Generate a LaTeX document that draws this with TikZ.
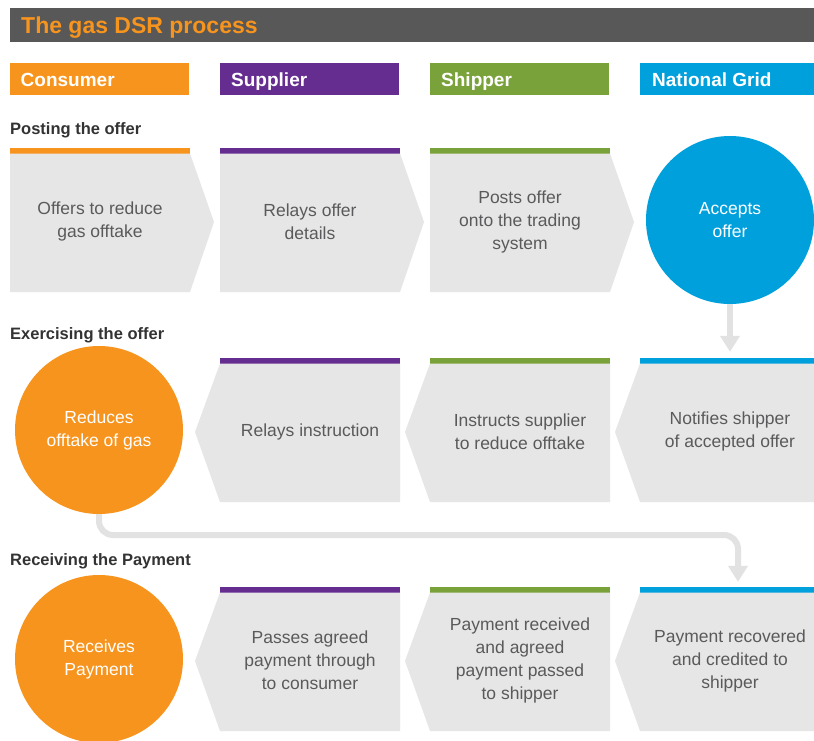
\documentclass[tikz,border=0pt]{standalone}
\usepackage{fontspec}
\setmainfont{Liberation Sans}
\usetikzlibrary{arrows.meta}
\definecolor{cOrange}{HTML}{F7941D}
\definecolor{cPurple}{HTML}{662D91}
\definecolor{cGreen}{HTML}{7AA23A}
\definecolor{cBlue}{HTML}{00A0DD}
\definecolor{cBar}{HTML}{585858}
\definecolor{cBox}{HTML}{E6E6E6}
\definecolor{cText}{HTML}{5A5A5C}
\definecolor{cLabel}{HTML}{333333}
\definecolor{cArrow}{HTML}{E2E2E2}
\begin{document}
\begin{tikzpicture}[x=1pt,y=-1pt,
  header/.style={anchor=base west,text=white,inner sep=0pt,font=\fontsize{19}{22}\selectfont\bfseries},
  hbox/.style={minimum width=179pt,minimum height=32pt,inner sep=0pt,anchor=north west},
  section/.style={anchor=base west,text=cLabel,inner sep=0pt,font=\fontsize{16.5}{19}\selectfont\bfseries},
  boxtext/.style={align=center,text=cText,inner sep=0pt,minimum width=180pt,minimum height=139pt,font=\fontsize{17.5}{23}\selectfont},
  disc/.style={circle,minimum size=168pt,inner sep=0pt,align=center,text=white,font=\fontsize{17.5}{23}\selectfont},
  body/.style={fill=cBox},
  conn/.style={draw=cArrow,line width=6pt,-{Triangle[width=19pt,length=16pt]}}
]
\useasboundingbox (0,0) rectangle (814,740);
\fill[white] (0,0) rectangle (814,740);

% title bar
\fill[cBar] (10,7.5) rectangle (814,42);
\node[anchor=base west,text=cOrange,inner sep=0pt,font=\fontsize{23}{26}\selectfont\bfseries] (title) at (21,33.3) {The gas DSR process};

% header boxes
\node[hbox,fill=cOrange] (hcons) at (10,63) {};
\node[hbox,fill=cPurple] (hsup) at (220,63) {};
\node[hbox,fill=cGreen] (hship) at (430,63) {};
\node[hbox,fill=cBlue,minimum width=184pt] (hng) at (640,63) {};
\node[header] (tcons) at (20.5,86) {Consumer};
\node[header] (tsup) at (231,86) {Supplier};
\node[header] (tship) at (441,86) {Shipper};
\node[header] (tng) at (652,86) {National Grid};

% section labels
\node[section] (s1) at (10,134) {Posting the offer};
\node[section] (s2) at (10,339) {Exercising the offer};
\node[section] (s3) at (10,565) {Receiving the Payment};

% ---- row 1 : chevrons pointing right
\foreach \xo/\col in {10/cOrange,220/cPurple,430/cGreen}{
  \fill[\col] (\xo,148) rectangle (\xo+180,153.5);
  \fill[body] (\xo,153.5) -- (\xo+180,153.5) -- (\xo+204,222) -- (\xo+180,292) -- (\xo,292) -- cycle;
}
\node[boxtext] (cons1) at (100,221.5) {Offers to reduce\\gas offtake};
\node[boxtext] (sup1) at (310,221.5) {Relays offer\\details};
\node[boxtext] (ship1) at (520,221.5) {Posts offer\\onto the trading\\system};
\node[disc,fill=cBlue] (ng1) at (730,220) {Accepts\\offer};

% ---- row 2 : chevrons pointing left
\foreach \xo/\col in {220/cPurple,430/cGreen,640/cBlue}{
  \fill[\col] (\xo,358) rectangle (\xo+180,363.5);
  \fill[body] (\xo,363.5) -- (\xo+180,363.5) -- (\xo+180,502) -- (\xo,502) -- (\xo-25,432) -- cycle;
}
\node[disc,fill=cOrange] (cons2) at (99,430) {Reduces\\offtake of gas};
\node[boxtext] (sup2) at (310,431.5) {Relays instruction};
\node[boxtext] (ship2) at (520,431.5) {Instructs supplier\\to reduce offtake};
\node[boxtext] (ng2) at (730,431.5) {Notifies shipper\\of accepted offer};

% ---- row 3 : chevrons pointing left
\foreach \xo/\col in {220/cPurple,430/cGreen,640/cBlue}{
  \fill[\col] (\xo,587) rectangle (\xo+180,592.5);
  \fill[body] (\xo,592.5) -- (\xo+180,592.5) -- (\xo+180,731) -- (\xo,731) -- (\xo-25,661) -- cycle;
}
\node[disc,fill=cOrange] (cons3) at (99,659) {Receives\\Payment};
\node[boxtext] (sup3) at (310,660.5) {Passes agreed\\payment through\\to consumer};
\node[boxtext] (ship3) at (520,660.5) {Payment received\\and agreed\\payment passed\\to shipper};
\node[boxtext] (ng3) at (730,660.5) {Payment recovered\\and credited to\\shipper};

% ---- connectors
\draw[conn,shorten >=10pt] (ng1.south) -- (ng1.south |- ng2.north);
\coordinate (turn) at (738,535);
\draw[conn,rounded corners=14pt,shorten >=9pt] (cons2.south) |- (turn) -- (turn |- ng3.north);
\end{tikzpicture}
\end{document}
